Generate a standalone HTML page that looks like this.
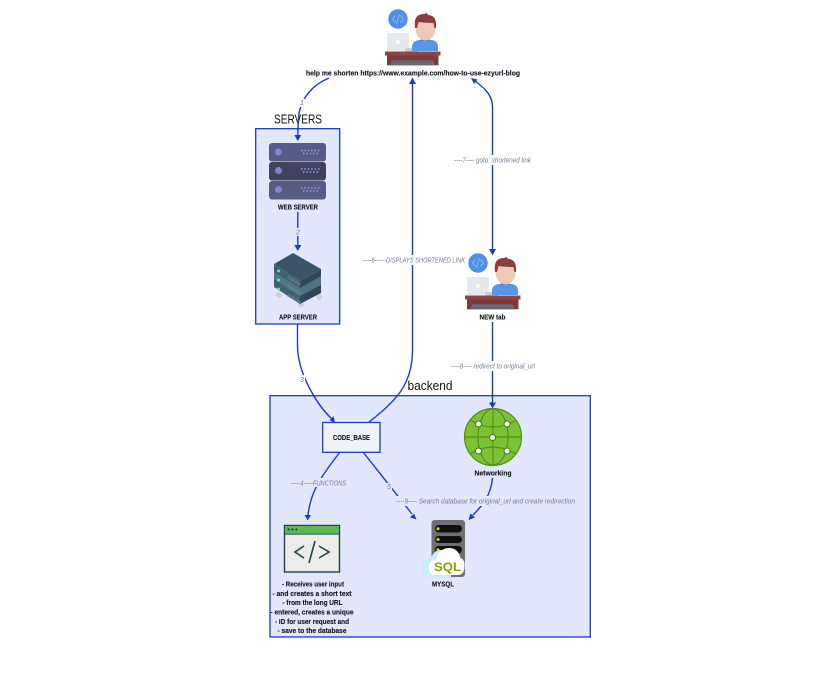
<!DOCTYPE html>
<html><head><meta charset="utf-8"><style>
html,body{margin:0;padding:0;background:#fff}
svg{display:block}
text{font-family:"Liberation Sans",sans-serif}
.b{font-size:7.5px;font-weight:bold;fill:#13131f;stroke:#13131f;stroke-width:.12;text-anchor:middle}
.l{font-size:7.2px;font-style:italic;fill:#767b98;text-anchor:middle}
.e{fill:none;stroke:#1a3cc0;stroke-width:1.4}
.a{fill:#1a3cc0}
</style></head><body>
<svg width="840" height="675" viewBox="0 0 840 675" xmlns="http://www.w3.org/2000/svg">
<defs>
<g id="p">
<circle cx="398" cy="19" r="9.700" fill="#4f8fe8"/>
<path d="M395.500 15.500l-3 3.500 3 3.500M400.500 15.500l3 3.500-3 3.500M399.500 14l-3 10" fill="none" stroke="#8fb8f2" stroke-width="1"/>
<rect x="387" y="33" width="22" height="18" rx="1" fill="#e6e8ec"/>
<circle cx="398" cy="42" r="2.200" fill="#fff"/>
<rect x="405" y="48" width="13" height="3.500" fill="#c9ccd2"/>
<path d="M412 51v-4q0-6 7-7l6-1 7 1q6 1 6 7v4z" fill="#5697ea"/>
<rect x="421" y="36" width="8" height="5" fill="#3f7fd4"/>
<ellipse cx="425.500" cy="28.500" rx="10" ry="12" fill="#f0c8b6"/>
<path d="M415 28q-2-14 9-14l3-1 1 2q9 0 8 13l-1.500 0-1-5q-8 0-15-1l-1.500 6z" fill="#8a3f3e"/>
<rect x="385" y="51.500" width="55.500" height="4" fill="#8c4743"/>
<rect x="387" y="55.500" width="51.500" height="9.800" fill="#7d3a38"/>
<path d="M391 65.300v-2q0-3 3-3h37q3 0 3 3v2z" fill="#646a72"/>
</g>
</defs>

<rect x="255.700" y="128.700" width="84" height="195.300" fill="#e1e8fb" stroke="#1a3cc0" stroke-width="1.300"/>
<rect x="270" y="395.700" width="320.300" height="241.300" fill="#e1e8fb" stroke="#1a3cc0" stroke-width="1.300"/>

<text x="298" y="123.500" style="font-size:13px" fill="#111" text-anchor="middle" textLength="48" lengthAdjust="spacingAndGlyphs">SERVERS</text>
<text x="430" y="390" style="font-size:13px" fill="#111" text-anchor="middle" textLength="45" lengthAdjust="spacingAndGlyphs">backend</text>

<!-- connectors -->
<path class="e" d="M329 78C312 85 302 98 299 113Q298 122 297.800 136"/>
<path class="a" d="M294.300 135h7l-3.500 6z"/>
<path class="e" d="M297.800 212V246"/>
<path class="a" d="M294.300 245h7l-3.500 6z"/>
<path class="e" d="M297.500 324V346C298 375 318 406 332 419"/>
<path class="a" d="M329.500 420.500l4-4.500 1.500 6.500z"/>
<path class="e" d="M369 422C395 402 412 385 412.500 352V82"/>
<path class="a" d="M409 84h7l-3.500-6.500z"/>
<path class="e" d="M492.500 250V106C492 94 483 87 475 81"/>
<path class="a" d="M471 78l6.500 1.500-3.500 4.500z"/>
<path class="a" d="M489 249h7l-3.500 6.500z"/>
<path class="e" d="M492.500 322V403"/>
<path class="a" d="M489 402.500h7l-3.500 6z"/>
<path class="e" d="M340 452C325 472 311 488 308 515"/>
<path class="a" d="M304.500 515h6.500l-3.300 5.500z"/>
<path class="e" d="M363 452L412 514"/>
<path class="a" d="M416.500 519.500l-6.500-2 4-4z"/>
<path class="e" d="M492.500 478C491 495 483 505 473 515"/>
<path class="a" d="M468.500 520l2-6.500 4.500 4z"/>

<!-- labels with breaks -->
<rect x="299" y="99" width="6" height="8" fill="#fff"/>
<text class="l" x="302" y="105">1</text>
<rect x="295" y="228" width="6" height="8" fill="#e1e8fb"/>
<text class="l" x="297.800" y="234.500">2</text>
<rect x="299" y="375" width="6" height="8" fill="#fff"/>
<text class="l" x="302" y="382">3</text>
<rect x="290" y="478" width="57" height="9" fill="#e1e8fb"/>
<text class="l" x="318.500" y="485.500" textLength="55" lengthAdjust="spacingAndGlyphs">-----4-----FUNCTIONS</text>
<rect x="386" y="483" width="6" height="8" fill="#e1e8fb"/>
<text class="l" x="389" y="489">5</text>
<rect x="361" y="255" width="105" height="10" fill="#fff"/>
<text class="l" x="413.500" y="262.500" textLength="103" lengthAdjust="spacingAndGlyphs">-----6------DISPLAYS SHORTENED LINK</text>
<rect x="453" y="155" width="79" height="10" fill="#fff"/>
<text class="l" x="492.500" y="162.500" textLength="77" lengthAdjust="spacingAndGlyphs">----7---- goto: shortened link</text>
<rect x="451" y="361" width="85" height="10" fill="#fff"/>
<text class="l" x="493" y="368.500" textLength="84" lengthAdjust="spacingAndGlyphs">----8---- redirect to original_url</text>
<rect x="395" y="496" width="181" height="10" fill="#e1e8fb"/>
<text class="l" x="485.500" y="503.500" textLength="179" lengthAdjust="spacingAndGlyphs">----9---- Search database for original_url and create redirection</text>

<!-- people -->
<use href="#p"/>
<use href="#p" x="80" y="244"/>
<text class="b" x="413" y="75.500" textLength="214" lengthAdjust="spacingAndGlyphs">help me shorten https://www.example.com/how-to-use-ezyurl-blog</text>
<text class="b" x="492.500" y="319.500" textLength="26" lengthAdjust="spacingAndGlyphs">NEW tab</text>

<!-- web server -->
<g>
<rect x="269" y="143" width="57" height="18.500" rx="3" fill="#565d85"/>
<rect x="269" y="162" width="57" height="18.500" rx="3" fill="#3e4460"/>
<rect x="269" y="181" width="57" height="18.500" rx="3" fill="#565d85"/>
<circle cx="278.500" cy="152" r="3.500" fill="#7d86c8"/>
<circle cx="278.500" cy="170.500" r="3.500" fill="#7d86c8"/>
<circle cx="278.500" cy="189.500" r="3.500" fill="#7d86c8"/>
<path d="M301 150.500h19M303 153.500h17M301 169h19M303 172h17M301 188h19M303 191h17" stroke="#98a0de" stroke-width="1.400" stroke-dasharray="1.400 2" fill="none"/>
</g>
<text class="b" x="298" y="209.500" textLength="40" lengthAdjust="spacingAndGlyphs">WEB SERVER</text>

<!-- app server -->
<g>
<path d="M276 293l3-1 3 2v3l-3 1-3-2zM316 296l4-2 2 1v3l-3 2-3-2z" fill="#cfd3d4"/>
<path d="M298 303l3 1 3-1v3l-3 2-3-2z" fill="#cfd3d4"/>
<path d="M274 264L293 253L321 269L300 281z" fill="#3b5568"/>
<path d="M274 264L300 281V304L274 287z" fill="#3f6271"/>
<path d="M300 281L321 269V293L300 304z" fill="#2f4757"/>
<path d="M274 272L300 288V296L274 279z" fill="#507782"/>
<path d="M300 288L321 276V285L300 296z" fill="#4d7480"/>
<circle cx="278.500" cy="271" r="1.500" fill="#6fe0c0"/>
<circle cx="278.500" cy="280" r="1.500" fill="#6fe0c0"/>
<circle cx="278.500" cy="289" r="1.500" fill="#6fe0c0"/>
<path d="M288 277l12 7.500M288 286l12 7.500M288 295l12 7.500" stroke="#6e8b96" stroke-width="3" stroke-dasharray="1 1.200" fill="none"/>
</g>
<text class="b" x="298" y="319.500" textLength="38" lengthAdjust="spacingAndGlyphs">APP SERVER</text>

<!-- code base -->
<rect x="322.700" y="422.500" width="57.300" height="29.800" fill="#eff3fd" stroke="#1a3cc0" stroke-width="1.300"/>
<text class="b" x="351.500" y="440" textLength="37" lengthAdjust="spacingAndGlyphs">CODE_BASE</text>

<!-- globe -->
<g>
<circle cx="493" cy="437" r="28.500" fill="#7cc334" stroke="#558f1e" stroke-width="1.200"/>
<g fill="none" stroke="#558f1e" stroke-width="1.200">
<ellipse cx="493" cy="437" rx="15" ry="28"/>
<path d="M493 409v56M465 437h56M470 420q23 14 46 0M470 454q23-14 46 0"/>
</g>
<g fill="#fff" stroke="#3f7a14" stroke-width="1">
<circle cx="478.500" cy="424" r="3"/><circle cx="507" cy="424" r="3"/>
<circle cx="492.500" cy="437.500" r="3"/>
<circle cx="478.500" cy="451" r="3"/><circle cx="507" cy="451" r="3"/>
</g>
</g>
<text class="b" x="493" y="475.500" textLength="37" lengthAdjust="spacingAndGlyphs">Networking</text>

<!-- code window -->
<g>
<rect x="284.500" y="525.500" width="55" height="46.500" fill="#ecedea" stroke="#24404a" stroke-width="1.400"/>
<rect x="285" y="526" width="54" height="7" fill="#5cb858"/>
<path d="M284.500 534h55" stroke="#24404a" stroke-width="1.200"/>
<circle cx="288.500" cy="529.500" r="1.100" fill="#24404a"/><circle cx="292.500" cy="529.500" r="1.100" fill="#24404a"/><circle cx="296.500" cy="529.500" r="1.100" fill="#24404a"/>
<path d="M304 546l-9 6 9 6M319 546l10 6-10 6M315 541l-6 22" fill="none" stroke="#24404a" stroke-width="1.600"/>
</g>
<text class="b" x="313" y="586.500" textLength="62" lengthAdjust="spacingAndGlyphs">- Receives user input</text>
<text class="b" x="312" y="596" textLength="79" lengthAdjust="spacingAndGlyphs">- and creates a short text</text>
<text class="b" x="312.500" y="605" textLength="60" lengthAdjust="spacingAndGlyphs">- from the long URL</text>
<text class="b" x="312" y="614.500" textLength="83" lengthAdjust="spacingAndGlyphs">- entered, creates a unique</text>
<text class="b" x="312" y="624" textLength="74" lengthAdjust="spacingAndGlyphs">- ID for user request and</text>
<text class="b" x="312" y="633" textLength="69" lengthAdjust="spacingAndGlyphs">- save to the database</text>

<!-- mysql -->
<g>
<rect x="431.500" y="520" width="33.500" height="57" rx="3" fill="#6f6f6f"/>
<rect x="435" y="525" width="27" height="7.500" rx="3.700" fill="#111"/>
<rect x="435" y="536" width="27" height="7" rx="3.500" fill="#111"/>
<rect x="435" y="546" width="27" height="7.500" rx="3.700" fill="#111"/>
<circle cx="438" cy="528.700" r="1.500" fill="#d6e020"/><circle cx="438" cy="539.500" r="1.500" fill="#d6e020"/><circle cx="438" cy="549.800" r="1.500" fill="#d6e020"/>
<path d="M430 578q-8 0-8-10t9-10q3-8 10-8 8 0 10 8v20z" fill="#c8ecf8"/>
<path d="M435 575q-6 0-6-7.500t7-7.500q3-12 13-12 9 0 11.500 10 4.500 1.500 4 8 0 9-7 9z" fill="#fff"/>
<text x="447.500" y="571" style="font-size:12px;font-weight:bold" fill="#8c9a05" text-anchor="middle" textLength="27" lengthAdjust="spacingAndGlyphs">SQL</text>
</g>
<text class="b" x="443" y="586.500" textLength="22" lengthAdjust="spacingAndGlyphs">MYSQL</text>
</svg>
</body></html>
